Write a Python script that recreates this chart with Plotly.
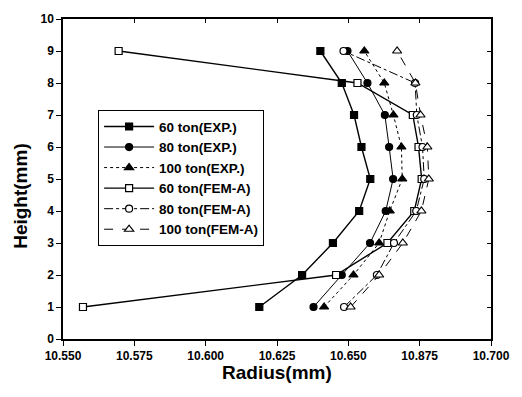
import plotly.graph_objects as go

heights = [1, 2, 3, 4, 5, 6, 7, 8, 9]

r60_exp = [10.6188, 10.6338, 10.6446, 10.6538, 10.6577, 10.6546, 10.6520, 10.6477, 10.6402]
r80_exp = [10.6378, 10.6477, 10.6576, 10.6631, 10.6657, 10.6643, 10.6628, 10.6567, 10.6497]
r100_exp = [10.6415, 10.6518, 10.6608, 10.6645, 10.6689, 10.6686, 10.6658, 10.6626, 10.6556]
r60_fem = [10.5570, 10.6457, 10.6637, 10.6731, 10.6757, 10.6746, 10.6726, 10.6532, 10.5695]
r80_fem = [10.6485, 10.6600, 10.6660, 10.6738, 10.6766, 10.6760, 10.6740, 10.6734, 10.6483]
r100_fem = [10.6508, 10.6608, 10.6691, 10.6756, 10.6782, 10.6777, 10.6753, 10.6735, 10.6671]

series_names = ["60 ton(EXP.)", "80 ton(EXP.)", "100 ton(EXP.)",
                "60 ton(FEM-A)", "80 ton(FEM-A)", "100 ton(FEM-A)"]

x_tick_vals = [10.550, 10.575, 10.600, 10.625, 10.650, 10.675, 10.700]
x_tick_text = ["10.550", "10.575", "10.600", "10.625", "10.650", "10.875", "10.700"]
y_tick_vals = [0, 1, 2, 3, 4, 5, 6, 7, 8, 9, 10]

series_data = [r60_exp, r80_exp, r100_exp, r60_fem, r80_fem, r100_fem]
symbols = ["square", "circle", "triangle-up", "square", "circle", "triangle-up"]
fills = ["black", "black", "black", "white", "white", "white"]
dashes = ["solid", "solid", "dot", "solid", "dashdot", "dash"]
widths = [1.4, 1.0, 1.0, 1.4, 1.0, 1.0]

fig = go.Figure()
for name, xs, sym, fill, dash, w in zip(series_names, series_data, symbols, fills, dashes, widths):
    fig.add_trace(go.Scatter(
        x=xs, y=heights, name=name, mode="lines+markers",
        line=dict(color="black", width=w, dash=dash),
        marker=dict(symbol=sym, size=8 if "triangle" in sym else 7,
                    color=fill, line=dict(color="black", width=1.2)),
    ))

# invisible trace to carry mirrored inside ticks
fig.add_trace(go.Scatter(x=[10.55], y=[0], xaxis="x2", yaxis="y2",
                         mode="markers", marker=dict(opacity=0), showlegend=False,
                         hoverinfo="skip"))

font_family = "Arial, Liberation Sans, sans-serif"
fig.update_layout(
    width=522, height=397,
    margin=dict(l=63, r=20, t=13, b=58),
    paper_bgcolor="white", plot_bgcolor="white",
    font=dict(family=font_family, color="black"),
    showlegend=True,
    legend=dict(
        x=0.082, y=0.715, xanchor="left", yanchor="top",
        bordercolor="black", borderwidth=1, bgcolor="white",
        font=dict(size=13.5, family=font_family, color="black", weight="bold"),
        itemwidth=50, tracegroupgap=0,
        entrywidth=140, entrywidthmode="pixels",
    ),
    xaxis=dict(
        range=[10.550, 10.700], tickvals=x_tick_vals, ticktext=x_tick_text,
        showgrid=False, zeroline=False,
        showline=True, linecolor="black", linewidth=1.5,
        ticks="outside", ticklen=5, tickcolor="black", tickwidth=1.2,
        tickfont=dict(size=12, family=font_family, weight="bold"),
    ),
    yaxis=dict(
        range=[0, 10], tickvals=y_tick_vals,
        showgrid=False, zeroline=False,
        showline=True, linecolor="black", linewidth=1.5,
        ticks="outside", ticklen=5, tickcolor="black", tickwidth=1.2,
        tickfont=dict(size=12, family=font_family, weight="bold"),
    ),
    xaxis2=dict(
        range=[10.550, 10.700], tickvals=x_tick_vals, overlaying="x", side="top",
        showticklabels=False, showgrid=False, zeroline=False,
        showline=True, linecolor="black", linewidth=1.5,
        ticks="inside", ticklen=4, tickcolor="black",
    ),
    yaxis2=dict(
        range=[0, 10], tickvals=y_tick_vals, overlaying="y", side="right",
        showticklabels=False, showgrid=False, zeroline=False,
        showline=True, linecolor="black", linewidth=1.5,
        ticks="inside", ticklen=4, tickcolor="black",
    ),
    annotations=[
        dict(text="Radius(mm)", xref="paper", yref="paper", x=0.499, y=-0.104,
             xanchor="center", yanchor="middle", showarrow=False,
             font=dict(size=19, weight="bold", family=font_family)),
        dict(text="Height(mm)", xref="paper", yref="paper", x=-0.1, y=0.448,
             xanchor="center", yanchor="middle", showarrow=False, textangle=-90,
             font=dict(size=19, weight="bold", family=font_family)),
    ],
)

fig.write_html("out.html", config={"displayModeBar": False},
               post_script="document.body.style.margin='0px';document.body.style.overflow='hidden';")
